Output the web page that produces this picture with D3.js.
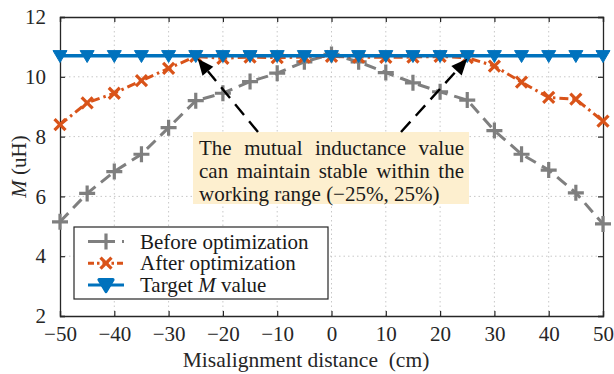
<!DOCTYPE html>
<html>
<head>
<meta charset="utf-8">
<script src="https://cdn.jsdelivr.net/npm/d3@7/dist/d3.min.js"></script>
<style>
  html, body { margin: 0; padding: 0; background: #fff; }
  svg { display: block; font-family: "Liberation Serif", "Times New Roman", "DejaVu Serif", serif; }
</style>
</head>
<body>
<svg id="chart" width="614" height="374"></svg>
<script>
// Misalignment distance (cm)
const distance = [-50, -45, -40, -35, -30, -25, -20, -15, -10, -5, 0, 5, 10, 15, 20, 25, 30, 35, 40, 45, 50];
// Mutual inductance M (uH)
const beforeOpt = [5.15, 6.1, 6.83, 7.41, 8.3, 9.2, 9.45, 9.84, 10.12, 10.5, 10.75, 10.5, 10.14, 9.8, 9.5, 9.22, 8.2, 7.41, 6.88, 6.12, 5.08];
const afterOpt  = [8.4, 9.13, 9.45, 9.87, 10.28, 10.68, 10.62, 10.66, 10.64, 10.66, 10.68, 10.66, 10.65, 10.66, 10.68, 10.64, 10.36, 9.82, 9.31, 9.25, 8.52];
const targetM   = [10.7, 10.7, 10.7, 10.7, 10.7, 10.7, 10.7, 10.7, 10.7, 10.7, 10.7, 10.7, 10.7, 10.7, 10.7, 10.7, 10.7, 10.7, 10.7, 10.7, 10.7];
const xTicks = [-50, -40, -30, -20, -10, 0, 10, 20, 30, 40, 50];
const yTicks = [2, 4, 6, 8, 10, 12];
const seriesNames = ["Before optimization", "After optimization", "Target M value"];
const noteLines = ["The mutual inductance value", "can maintain stable within the", "working range (\u221225%, 25%)"];
const arrowTargets = [[-25, 10.7], [25, 10.7]];

const C_GRAY = "#7f7f7f", C_ORANGE = "#D95319", C_BLUE = "#0072BD", C_AX = "#262626";
const FS = 21;

const svg = d3.select("#chart");
const m = { left: 60, right: 11, top: 17, bottom: 58 };
const W = 614, H = 374;
const x = d3.scaleLinear().domain([-50, 50]).range([m.left, W - m.right]);
const y = d3.scaleLinear().domain([2, 12]).range([H - m.bottom, m.top]);

// grid
const grid = svg.append("g").attr("stroke", "#c8c8c8").attr("stroke-width", 1).attr("stroke-dasharray", "1.5,3");
grid.selectAll(".gx").data(xTicks.slice(1, -1)).join("line")
  .attr("x1", d => x(d)).attr("x2", d => x(d)).attr("y1", y(2)).attr("y2", y(12));
grid.selectAll(".gy").data(yTicks.slice(1, -1)).join("line")
  .attr("y1", d => y(d)).attr("y2", d => y(d)).attr("x1", x(-50)).attr("x2", x(50));

// axes with inward ticks on every side
function styleAxis(g) {
  g.attr("font-family", null);
  g.selectAll("path").attr("stroke", C_AX).attr("stroke-width", 1.3);
  g.selectAll("line").attr("stroke", C_AX).attr("stroke-width", 1.2);
  g.selectAll("text").attr("font-size", FS).attr("fill", C_AX);
}
svg.append("g").attr("transform", `translate(0,${y(2)})`)
  .call(d3.axisBottom(x).tickValues(xTicks).tickSize(-5).tickPadding(10).tickFormat(d => d < 0 ? "\u2212" + Math.abs(d) : d))
  .call(styleAxis);
svg.append("g").attr("transform", `translate(0,${y(12)})`)
  .call(d3.axisTop(x).tickValues(xTicks).tickSize(-5).tickFormat(""))
  .call(styleAxis);
svg.append("g").attr("transform", `translate(${x(-50)},0)`)
  .call(d3.axisLeft(y).tickValues(yTicks).tickSize(-5).tickPadding(14))
  .call(styleAxis);
svg.append("g").attr("transform", `translate(${x(50)},0)`)
  .call(d3.axisRight(y).tickValues(yTicks).tickSize(-5).tickFormat(""))
  .call(styleAxis);

// axis titles
svg.append("text").attr("x", 306).attr("y", 367).attr("text-anchor", "middle")
  .attr("font-size", 21.5).attr("fill", C_AX)
  .text("Misalignment distance\u00a0 (cm)");
const yl = svg.append("text").attr("transform", `translate(26,${(y(2) + y(12)) / 2}) rotate(-90)`)
  .attr("text-anchor", "middle").attr("font-size", 21).attr("fill", C_AX);
yl.append("tspan").attr("font-style", "italic").text("M");
yl.append("tspan").text(" (uH)");

// markers
function plusPath(s) { return `M${-s},0H${s}M0,${-s}V${s}`; }
function crossPath(s) { return `M${-s},${-s}L${s},${s}M${-s},${s}L${s},${-s}`; }
function triPath(s) { return `M${-s},${-s * 0.75}L${s},${-s * 0.75}L0,${s * 0.95}Z`; }

const line = d3.line().x(d => x(d[0])).y(d => y(d[1]));
const pts = arr => distance.map((d, i) => [d, arr[i]]);

// Before optimization
svg.append("path").datum(pts(beforeOpt)).attr("d", line).attr("fill", "none")
  .attr("stroke", C_GRAY).attr("stroke-width", 3).attr("stroke-dasharray", "12,7");
svg.append("g").selectAll("path").data(pts(beforeOpt)).join("path")
  .attr("transform", d => `translate(${x(d[0])},${y(d[1])})`).attr("d", plusPath(8))
  .attr("stroke", C_GRAY).attr("stroke-width", 3.2).attr("fill", "none");

// After optimization
svg.append("path").datum(pts(afterOpt)).attr("d", line).attr("fill", "none")
  .attr("stroke", C_ORANGE).attr("stroke-width", 3).attr("stroke-dasharray", "9,4,2.5,4");
svg.append("g").selectAll("path").data(pts(afterOpt)).join("path")
  .attr("transform", d => `translate(${x(d[0])},${y(d[1])})`).attr("d", crossPath(5.5))
  .attr("stroke", C_ORANGE).attr("stroke-width", 3.2).attr("fill", "none");

// Target M value
svg.append("path").datum(pts(targetM)).attr("d", line).attr("fill", "none")
  .attr("stroke", C_BLUE).attr("stroke-width", 3.5);
svg.append("g").selectAll("path").data(pts(targetM)).join("path")
  .attr("transform", d => `translate(${x(d[0])},${y(d[1])})`).attr("d", triPath(7))
  .attr("fill", C_BLUE).attr("stroke", C_BLUE).attr("stroke-width", 1).attr("stroke-linejoin", "round");

// annotation box with justified text
const box = { x0: 193, y0: 132, x1: 469, y1: 204 };
svg.append("rect").attr("x", box.x0).attr("y", box.y0).attr("width", box.x1 - box.x0).attr("height", box.y1 - box.y0)
  .attr("fill", "#fdefcf");
const noteG = svg.append("g").attr("font-size", FS).attr("fill", "#1a1a1a");
const tx0 = 199, tx1 = 464;
noteLines.forEach((ln, i) => {
  const by = 155 + i * 23;
  const words = ln.split(" ");
  if (i === noteLines.length - 1) {
    noteG.append("text").attr("x", tx0).attr("y", by).text(ln);
    return;
  }
  const widths = words.map(w => {
    const t = noteG.append("text").text(w);
    const wd = t.node().getComputedTextLength();
    t.remove();
    return wd;
  });
  const gap = (tx1 - tx0 - d3.sum(widths)) / (words.length - 1);
  let cx = tx0;
  words.forEach((w, j) => {
    noteG.append("text").attr("x", cx).attr("y", by).text(w);
    cx += widths[j] + gap;
  });
});

// dashed arrows pointing at the target curve
const tails = [[258, 132], [401, 132]];
arrowTargets.forEach((t, i) => {
  const tipX = x(t[0]) + (i === 0 ? 2 : 0), tipY = y(t[1]) + 3;
  const [sx, sy] = tails[i];
  const dx = tipX - sx, dy = tipY - sy, L = Math.hypot(dx, dy);
  const ux = dx / L, uy = dy / L;
  const headLen = 16, headW = 7;
  const bx = tipX - ux * headLen, by = tipY - uy * headLen;
  svg.append("line").attr("x1", sx).attr("y1", sy).attr("x2", bx).attr("y2", by)
    .attr("stroke", "#000").attr("stroke-width", 2.4).attr("stroke-dasharray", "14,8");
  svg.append("path").attr("d", `M${tipX},${tipY}L${bx - uy * headW},${by + ux * headW}L${bx + uy * headW},${by - ux * headW}Z`)
    .attr("fill", "#000");
});

// legend
const lg = { x0: 74, y0: 227, x1: 328, y1: 299 };
svg.append("rect").attr("x", lg.x0).attr("y", lg.y0).attr("width", lg.x1 - lg.x0).attr("height", lg.y1 - lg.y0)
  .attr("fill", "#fff").attr("stroke", C_AX).attr("stroke-width", 1.2);
const legItems = [
  { c: C_GRAY, dash: "10,7", mk: plusPath(8), fill: "none" },
  { c: C_ORANGE, dash: "6,3,2.5,3", mk: crossPath(5.5), fill: "none" },
  { c: C_BLUE, dash: null, mk: triPath(7), fill: C_BLUE }
];
legItems.forEach((it, i) => {
  const cy = 241.5 + i * 21.7;
  svg.append("line").attr("x1", 88).attr("x2", 124).attr("y1", cy).attr("y2", cy)
    .attr("stroke", it.c).attr("stroke-width", 3).attr("stroke-dasharray", it.dash);
  svg.append("path").attr("transform", `translate(106,${cy})`).attr("d", it.mk)
    .attr("stroke", it.c).attr("stroke-width", 3.2).attr("fill", it.fill).attr("stroke-linejoin", "round");
  const t = svg.append("text").attr("x", 140).attr("y", cy + 7)
    .attr("font-size", FS).attr("fill", "#1a1a1a");
  if (i === 2) {
    t.append("tspan").text("Target ");
    t.append("tspan").attr("font-style", "italic").text("M");
    t.append("tspan").text(" value");
  } else {
    t.text(seriesNames[i]);
  }
});
</script>
</body>
</html>
